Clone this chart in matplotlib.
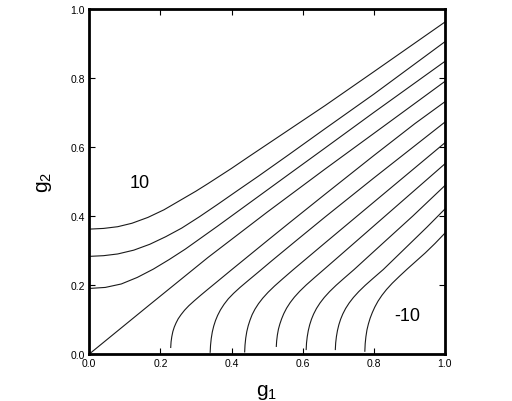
import matplotlib
matplotlib.use("Agg")
import matplotlib.pyplot as plt

# contour lines (g1, g2)
l1_x = [0.0, 0.04, 0.08, 0.12, 0.165, 0.21, 0.255, 0.3, 0.334, 0.4, 0.45, 0.55, 0.663, 0.8, 1.0]
l1_y = [0.362, 0.364, 0.369, 0.379, 0.396, 0.418, 0.445, 0.472, 0.494, 0.538, 0.573, 0.642, 0.720, 0.818, 0.962]
l2_x = [0.0, 0.04, 0.08, 0.125, 0.17, 0.215, 0.26, 0.31, 0.36, 0.42, 0.475, 0.56, 0.663, 0.8, 1.0]
l2_y = [0.283, 0.285, 0.290, 0.301, 0.318, 0.34, 0.365, 0.398, 0.433, 0.476, 0.515, 0.577, 0.653, 0.753, 0.905]
l3_x = [0.0, 0.045, 0.09, 0.135, 0.18, 0.225, 0.27, 0.315, 0.36, 0.46, 0.56, 0.663, 0.8, 1.0]
l3_y = [0.190, 0.193, 0.203, 0.222, 0.246, 0.274, 0.304, 0.337, 0.370, 0.445, 0.520, 0.597, 0.700, 0.848]
l4_x = [0.0, 0.17, 0.334, 0.5, 0.663, 0.837, 1.0]
l4_y = [0.0, 0.143, 0.280, 0.411, 0.536, 0.667, 0.790]
l5_x = [0.229, 0.230, 0.232, 0.235, 0.239, 0.244, 0.250, 0.258, 0.268, 0.280, 0.295, 0.313, 0.334,
        0.36, 0.40, 0.45, 0.50, 0.56, 0.663, 0.80, 0.916, 1.0]
l5_y = [0.019, 0.035, 0.05, 0.065, 0.078, 0.09, 0.102, 0.114, 0.127, 0.14, 0.154, 0.17, 0.188,
        0.21, 0.244, 0.286, 0.328, 0.378, 0.463, 0.575, 0.668, 0.731]
l6_x = [0.340, 0.341, 0.343, 0.346, 0.350, 0.355, 0.361, 0.369, 0.379, 0.391, 0.406, 0.424, 0.447,
        0.475, 0.513, 0.58, 0.663, 0.80, 1.0]
l6_y = [0.005, 0.025, 0.045, 0.064, 0.081, 0.097, 0.112, 0.128, 0.144, 0.16, 0.176, 0.193, 0.213,
        0.237, 0.27, 0.327, 0.397, 0.51, 0.672]
l7_x = [0.437, 0.438, 0.440, 0.443, 0.447, 0.452, 0.458, 0.466, 0.476, 0.488, 0.503, 0.521, 0.544,
        0.572, 0.61, 0.663, 0.80, 1.0]
l7_y = [0.006, 0.026, 0.046, 0.065, 0.082, 0.098, 0.114, 0.13, 0.146, 0.162, 0.179, 0.197, 0.218,
        0.243, 0.276, 0.322, 0.44, 0.612]
l8_x = [0.526, 0.527, 0.529, 0.532, 0.536, 0.541, 0.547, 0.555, 0.565, 0.577, 0.592, 0.61, 0.633,
        0.661, 0.70, 0.75, 0.85, 1.0]
l8_y = [0.022, 0.038, 0.055, 0.072, 0.087, 0.102, 0.117, 0.133, 0.149, 0.165, 0.182, 0.2, 0.221,
        0.246, 0.281, 0.326, 0.416, 0.551]
l9_x = [0.610, 0.611, 0.613, 0.616, 0.620, 0.625, 0.631, 0.639, 0.649, 0.661, 0.676, 0.694, 0.717,
        0.745, 0.78, 0.83, 0.91, 1.0]
l9_y = [0.013, 0.032, 0.05, 0.068, 0.085, 0.101, 0.116, 0.132, 0.148, 0.164, 0.181, 0.199, 0.22,
        0.245, 0.278, 0.325, 0.40, 0.488]
l10_x = [0.692, 0.693, 0.695, 0.698, 0.702, 0.707, 0.713, 0.721, 0.731, 0.743, 0.758, 0.776, 0.799,
         0.827, 0.86, 0.90, 0.95, 1.0]
l10_y = [0.013, 0.032, 0.05, 0.068, 0.085, 0.101, 0.116, 0.132, 0.148, 0.164, 0.181, 0.199, 0.22,
         0.245, 0.278, 0.318, 0.368, 0.420]
l11_x = [0.775, 0.776, 0.778, 0.781, 0.785, 0.790, 0.796, 0.803, 0.812, 0.823, 0.836, 0.852, 0.872,
         0.895, 0.92, 0.945, 0.972, 1.0]
l11_y = [0.008, 0.03, 0.05, 0.07, 0.087, 0.104, 0.12, 0.136, 0.153, 0.17, 0.187, 0.205, 0.225,
         0.247, 0.27, 0.293, 0.32, 0.350]

lines = [(l1_x, l1_y), (l2_x, l2_y), (l3_x, l3_y), (l4_x, l4_y), (l5_x, l5_y), (l6_x, l6_y),
         (l7_x, l7_y), (l8_x, l8_y), (l9_x, l9_y), (l10_x, l10_y), (l11_x, l11_y)]

ticks = [0.0, 0.2, 0.4, 0.6, 0.8, 1.0]
tick_labels = ["0.0", "0.2", "0.4", "0.6", "0.8", "1.0"]

plt.rcParams['font.family'] = ['Liberation Sans', 'DejaVu Sans']
plt.rcParams['mathtext.fontset'] = 'custom'
plt.rcParams['mathtext.rm'] = 'Liberation Sans'
plt.rcParams['mathtext.it'] = 'Liberation Sans'

fig = plt.figure(figsize=(5.12, 4.02), dpi=100)
ax = fig.add_axes([0.1744, 0.1169, 0.6944, 0.8582])

for xs, ys in lines:
    ax.plot(xs, ys, color='#1a1a1a', lw=0.8)

ax.text(0.142, 0.496, "10", fontsize=13, ha='center', va='center')
ax.text(0.893, 0.111, "-10", fontsize=13, ha='center', va='center')

ax.set_xlim(0, 1)
ax.set_ylim(0, 1)
ax.set_xticks(ticks)
ax.set_xticklabels(tick_labels)
ax.set_yticks(ticks)
ax.set_yticklabels(tick_labels)
ax.tick_params(direction='in', length=4, width=0.8, labelsize=7.5, top=True, right=True, pad=3)
for s in ax.spines.values():
    s.set_linewidth(2)

ax.set_xlabel("g$_1$", fontsize=15, labelpad=10)
ax.set_ylabel("g$_2$", fontsize=15, labelpad=12)

fig.savefig("out.png", dpi=100)
plt.close(fig)
